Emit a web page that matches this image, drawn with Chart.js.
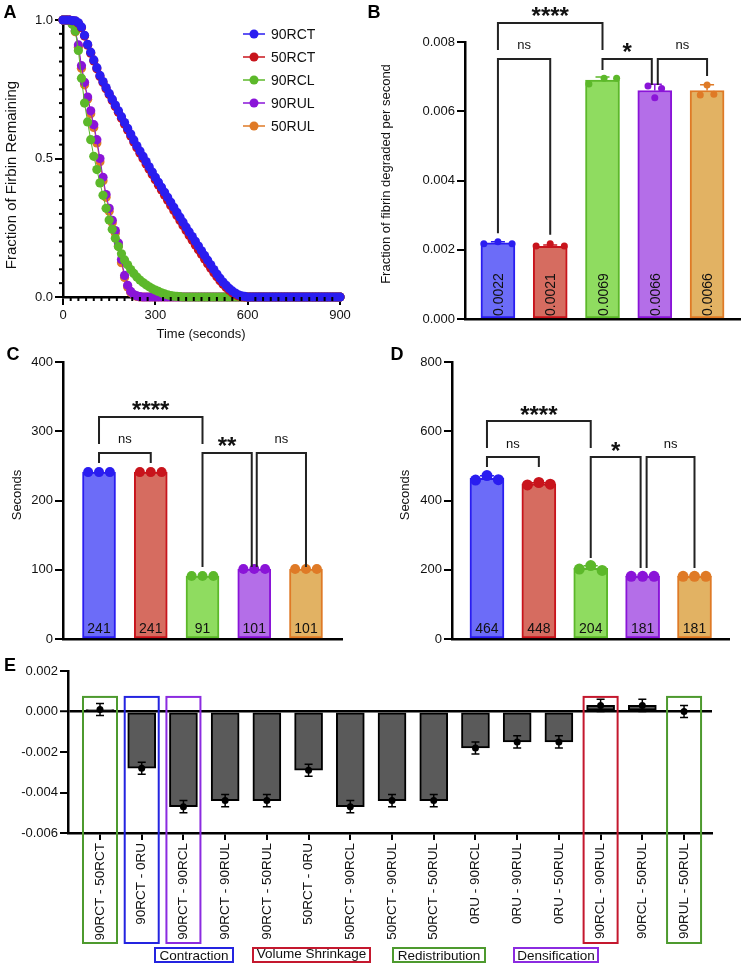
<!DOCTYPE html>
<html>
<head>
<meta charset="utf-8">
<title>Fibrin lysis</title>
<script src="https://cdn.jsdelivr.net/npm/chart.js@4.4.0/dist/chart.umd.min.js"></script>
<style>
  html, body { margin: 0; padding: 0; background: #fff; }
  #page { position: relative; width: 744px; height: 967px; }
  #page canvas { position: absolute; left: 0; top: 0; }
</style>
</head>
<body>
<div id="page">
  <canvas id="chartA" width="744" height="967"></canvas>
  <canvas id="chartB" width="744" height="967"></canvas>
  <canvas id="chartC" width="744" height="967"></canvas>
  <canvas id="chartD" width="744" height="967"></canvas>
  <canvas id="chartE" width="744" height="967"></canvas>
</div>
<script>
// ---- data ----
const groups = ['90RCT', '50RCT', '90RCL', '90RUL', '50RUL'];

// panel A: fraction of fibrin remaining, one reading every 10 s
const timeSec = [0,10,20,30,40,50,60,70,80,90,100,110,120,130,140,150,160,170,180,190,
  200,210,220,230,240,250,260,270,280,290,300,310,320,330,340,350,360,370,380,390,
  400,410,420,430,440,450,460,470,480,490,500,510,520,530,540,550,560,570,580,590,
  600,610,620,630,640,650,660,670,680,690,700,710,720,730,740,750,760,770,780,790,
  800,810,820,830,840,850,860,870,880,890,900];
const rem90RCT = [1.000,1.000,1.000,0.998,0.997,0.990,0.975,0.945,0.912,0.884,
  0.856,0.828,0.800,0.778,0.756,0.735,0.714,0.693,0.672,0.651,
  0.630,0.609,0.588,0.567,0.546,0.527,0.508,0.489,0.470,0.451,
  0.432,0.414,0.396,0.378,0.360,0.342,0.324,0.306,0.288,0.270,
  0.252,0.235,0.218,0.201,0.184,0.167,0.150,0.133,0.116,0.099,
  0.083,0.068,0.054,0.042,0.031,0.022,0.014,0.008,0.004,0.002,
  0,0,0,0,0,0,0,0,0,0,0,0,0,0,0,0,0,0,0,0,0,0,0,0,0,0,0,0,0,0,0];
const rem50RCT = [1.000,1.000,1.000,0.998,0.996,0.988,0.972,0.942,0.909,0.880,
  0.852,0.824,0.796,0.774,0.752,0.731,0.709,0.688,0.667,0.645,
  0.624,0.603,0.581,0.560,0.539,0.519,0.500,0.480,0.461,0.442,
  0.423,0.404,0.386,0.367,0.349,0.330,0.312,0.294,0.276,0.258,
  0.240,0.222,0.205,0.188,0.171,0.154,0.137,0.120,0.104,0.088,
  0.073,0.059,0.046,0.034,0.024,0.015,0.009,0.004,0.001,0,
  0,0,0,0,0,0,0,0,0,0,0,0,0,0,0,0,0,0,0,0,0,0,0,0,0,0,0,0,0,0,0];
const rem90RCL = [1.000,1.000,0.998,0.985,0.960,0.890,0.790,0.700,0.632,0.568,
  0.508,0.460,0.412,0.367,0.320,0.278,0.245,0.212,0.182,0.156,
  0.134,0.116,0.099,0.085,0.072,0.061,0.052,0.044,0.037,0.030,
  0.025,0.020,0.015,0.011,0.008,0.005,0.003,0.002,0.001,0,
  0,0,0,0,0,0,0,0,0,0,0,0,0,0,0,0,0,0,0,0,
  0,0,0,0,0,0,0,0,0,0,0,0,0,0,0,0,0,0,0,0,0,0,0,0,0,0,0,0,0,0,0];
const rem90RUL = [1.000,1.000,1.000,0.988,0.962,0.910,0.835,0.775,0.722,0.672,
  0.622,0.568,0.500,0.432,0.370,0.320,0.277,0.240,0.195,0.135,
  0.078,0.042,0.020,0.009,0.004,0.001,0,0,0,0,
  0,0,0,0,0,0,0,0,0,0,0,0,0,0,0,0,0,0,0,0,0,0,0,0,0,0,0,0,0,0,
  0,0,0,0,0,0,0,0,0,0,0,0,0,0,0,0,0,0,0,0,0,0,0,0,0,0,0,0,0,0,0];
const rem50RUL = [1.000,1.000,1.000,0.986,0.958,0.902,0.826,0.766,0.714,0.662,
  0.612,0.556,0.488,0.420,0.360,0.310,0.268,0.230,0.184,0.124,
  0.070,0.036,0.016,0.007,0.002,0,0,0,0,0,
  0,0,0,0,0,0,0,0,0,0,0,0,0,0,0,0,0,0,0,0,0,0,0,0,0,0,0,0,0,0,
  0,0,0,0,0,0,0,0,0,0,0,0,0,0,0,0,0,0,0,0,0,0,0,0,0,0,0,0,0,0,0];
const remaining = [rem90RCT, rem50RCT, rem90RCL, rem90RUL, rem50RUL];

// panel B: fraction degraded per second (3 replicates per group)
const rateReps = [
  [0.00217, 0.00223, 0.00217],
  [0.00211, 0.00217, 0.00211],
  [0.00679, 0.00695, 0.00695],
  [0.00673, 0.00639, 0.00666],
  [0.00647, 0.00676, 0.00649]
];
const rateMeans = [0.0022, 0.0021, 0.0069, 0.0066, 0.0066];

// panel C / D: seconds (3 replicates per group)
const secCReps = [[241,241,241],[241,241,241],[91,91,91],[101,101,101],[101,101,101]];
const secCMeans = [241, 241, 91, 101, 101];
const secDReps = [[459,472,460],[445,452,447],[202,212,198],[181,181,181],[181,181,181]];
const secDMeans = [464, 448, 204, 181, 181];

// panel E: pairwise differences
const diffLabels = ['90RCT - 50RCT','90RCT - 0RU','90RCT - 90RCL','90RCT - 90RUL','90RCT - 50RUL',
  '50RCT - 0RU','50RCT - 90RCL','50RCT - 90RUL','50RCT - 50RUL','0RU - 90RCL','0RU - 90RUL',
  '0RU - 50RUL','90RCL - 90RUL','90RCL - 50RUL','90RUL - 50RUL'];
const diffMeans = [0.0001,-0.0028,-0.0047,-0.0044,-0.0044,-0.0029,-0.0047,-0.0044,-0.0044,
  -0.0018,-0.0015,-0.0015,0.0003,0.0003,0.0000];
const diffErr = [0.0003,0.0003,0.0003,0.0003,0.0003,0.0003,0.0003,0.0003,0.0003,
  0.0003,0.0003,0.0003,0.0003,0.0003,0.0003];

// significance brackets (value units on each panel's y axis)
const rateBrackets = [
  { from: 0, to: 2, top: 0.00855, leg0: 0.00777, leg1: 0.00777, text: '****' },
  { from: 0, to: 1, top: 0.00751, leg0: 0.00248, leg1: 0.00243, text: 'ns' },
  { from: 2, to: 3, top: 0.00751, leg0: 0.00719, leg1: 0.00676, text: '*', dx1: -3 },
  { from: 3, to: 4, top: 0.00751, leg0: 0.00676, leg1: 0.00702, text: 'ns', dx0: 3 }
];
const secCBrackets = [
  { from: 0, to: 2, top: 320.6, leg0: 281.6, leg1: 281.6, text: '****' },
  { from: 0, to: 1, top: 268.6, leg0: 254, leg1: 254, text: 'ns' },
  { from: 2, to: 3, top: 268.6, leg0: 104, leg1: 104, text: '**', dx1: -2.5 },
  { from: 3, to: 4, top: 268.6, leg0: 104, leg1: 104, text: 'ns', dx0: 2.5 }
];
const secDBrackets = [
  { from: 0, to: 2, top: 629.6, leg0: 551.6, leg1: 551.6, text: '****' },
  { from: 0, to: 1, top: 525.6, leg0: 496.8, leg1: 496.8, text: 'ns' },
  { from: 2, to: 3, top: 525.6, leg0: 234, leg1: 205, text: '*', dx1: -2 },
  { from: 3, to: 4, top: 525.6, leg0: 205, leg1: 205, text: 'ns', dx0: 4 }
];

// ---- styles ----
const FONT = "'Liberation Sans', Arial, Helvetica, sans-serif";
const lineColors = ['#2a1df0', '#c8141c', '#5cb82a', '#8a14d8', '#df7a26'];
const barFills = ['#6c6cf8', '#d66c60', '#8fdc60', '#b46ee8', '#e2b263'];
const boxGreen = '#4d9a2e', boxBlue = '#2424e0', boxPurple = '#8b2be0', boxRed = '#c4182e';

Chart.defaults.font.family = FONT;
Chart.defaults.font.size = 13;
Chart.defaults.color = '#111';
Chart.defaults.animation = false;
Chart.defaults.events = [];
Chart.defaults.responsive = false;
Chart.defaults.devicePixelRatio = 1;
Chart.defaults.plugins.legend.display = false;
Chart.defaults.plugins.tooltip.enabled = false;

const PAGE_W = 744, PAGE_H = 967;

// place the chart area at page coords (l,t)-(r,b)
function frame(l, t, r, b, yw, xh) {
  return {
    padding: { left: l - yw, top: t, right: PAGE_W - r, bottom: PAGE_H - b - xh },
    fitY: s => { s.width = yw; },
    fitX: s => { s.height = xh; }
  };
}

function text(ctx, s, x, y, o = {}) {
  const size = o.size || 13, weight = o.weight || 'normal';
  ctx.save();
  ctx.font = `${weight} ${size}px ${FONT}`;
  ctx.fillStyle = o.color || '#111';
  ctx.textAlign = o.align || 'center';
  ctx.textBaseline = 'alphabetic';
  const m = ctx.measureText(s);
  const shift = (m.actualBoundingBoxAscent - m.actualBoundingBoxDescent) / 2;
  ctx.translate(x, y);
  if (o.rotate) ctx.rotate(o.rotate);
  ctx.fillText(s, 0, shift);
  ctx.restore();
}

function panelLetter(ctx, s, x, y) {
  text(ctx, s, x, y, { size: 18, weight: 'bold', color: '#000' });
}

function drawBrackets(chart, list) {
  const { ctx, scales: { x, y } } = chart;
  ctx.save();
  ctx.strokeStyle = '#222';
  ctx.lineWidth = 2;
  list.forEach(b => {
    const x0 = x.getPixelForValue(b.from) + (b.dx0 || 0);
    const x1 = x.getPixelForValue(b.to) + (b.dx1 || 0);
    const yt = y.getPixelForValue(b.top);
    ctx.beginPath();
    ctx.moveTo(x0, y.getPixelForValue(b.leg0));
    ctx.lineTo(x0, yt);
    ctx.lineTo(x1, yt);
    ctx.lineTo(x1, y.getPixelForValue(b.leg1));
    ctx.stroke();
    const isStar = b.text.indexOf('*') >= 0;
    if (isStar) text(ctx, b.text, (x0 + x1) / 2, yt - 11, { size: 24, weight: 'bold', color: '#111' });
    else text(ctx, b.text, (x0 + x1) / 2, yt - 13, { size: 13 });
  });
  ctx.restore();
}

function sd(arr) {
  const m = arr.reduce((a, v) => a + v, 0) / arr.length;
  return Math.sqrt(arr.reduce((a, v) => a + (v - m) * (v - m), 0) / (arr.length - 1));
}

// upward SD whiskers in the group colour
function drawSdBars(chart, means, reps) {
  const { ctx, scales: { x, y } } = chart;
  ctx.save();
  ctx.lineWidth = 1.5;
  means.forEach((m, i) => {
    const s = sd(reps[i]);
    if (s <= 0) return;
    const px = x.getPixelForValue(i);
    const y0 = y.getPixelForValue(m), y1 = y.getPixelForValue(m + s);
    ctx.strokeStyle = lineColors[i];
    ctx.beginPath();
    ctx.moveTo(px, y0); ctx.lineTo(px, y1);
    ctx.moveTo(px - 7, y1); ctx.lineTo(px + 7, y1);
    ctx.stroke();
  });
  ctx.restore();
}

function yAxis(min, max, step, fmt, fit) {
  return {
    type: 'linear', min, max,
    ticks: { stepSize: step, callback: fmt, padding: 2, color: '#111', font: { size: 13 } },
    grid: { display: true, drawOnChartArea: false, drawTicks: true, tickLength: 8, color: '#000', lineWidth: 2 },
    border: { display: true, color: '#000', width: 2.5 },
    afterFit: fit
  };
}

function flatXAxis(min, max, fit) {
  return {
    type: 'linear', min, max, offset: false,
    ticks: { display: false },
    grid: { display: false, offset: false },
    border: { display: true, color: '#000', width: 2.5 },
    afterFit: fit
  };
}

function barPanel(id, fr, xr, yOpts, means, reps, jitter, barW, dotR, extras) {
  const dots = [], dotColors = [];
  reps.forEach((row, i) => row.forEach((v, r) => {
    dots.push({ x: i + jitter[i][r], y: v });
    dotColors.push(lineColors[i]);
  }));
  return new Chart(document.getElementById(id), {
    type: 'bar',
    data: {
      datasets: [
        {
          type: 'bar',
          data: means.map((m, i) => ({ x: i, y: m })),
          backgroundColor: barFills,
          borderColor: lineColors,
          borderWidth: 2,
          borderSkipped: false,
          barThickness: barW,
          order: 2
        },
        {
          type: 'line',
          data: dots,
          showLine: false,
          pointRadius: dotR,
          pointBackgroundColor: dotColors,
          pointBorderWidth: 0,
          clip: false,
          order: 0
        }
      ]
    },
    options: {
      layout: { padding: fr.padding },
      scales: { x: flatXAxis(xr[0], xr[1], fr.fitX), y: yOpts }
    },
    plugins: [{
      id: 'extras_' + id,
      beforeDatasetsDraw(chart) { drawSdBars(chart, means, reps); },
      afterDraw(chart) { extras(chart); }
    }]
  });
}

// ---- panel A ----
const fA = frame(63, 20, 340, 297, 50, 40);
new Chart(document.getElementById('chartA'), {
  type: 'line',
  data: {
    datasets: groups.map((g, k) => ({
      label: g,
      data: timeSec.map((t, i) => ({ x: t, y: remaining[k][i] })),
      borderColor: lineColors[k],
      backgroundColor: lineColors[k],
      borderWidth: 1,
      pointRadius: 4.6,
      pointBackgroundColor: lineColors[k],
      pointBorderWidth: 0,
      tension: 0,
      clip: false
    }))
  },
  options: {
    layout: { padding: fA.padding },
    scales: {
      x: {
        type: 'linear', min: 0, max: 900,
        ticks: { stepSize: 300, padding: 3, color: '#111', font: { size: 13 } },
        grid: { display: true, drawOnChartArea: false, tickLength: 8, color: '#000', lineWidth: 2 },
        border: { display: true, color: '#000', width: 2.5 },
        afterFit: fA.fitX
      },
      y: yAxis(0, 1, 0.5, v => v.toFixed(1), fA.fitY)
    }
  },
  plugins: [{
    id: 'extrasA',
    afterDraw(chart) {
      const { ctx, chartArea: a, scales: { x, y } } = chart;
      ctx.save();
      ctx.strokeStyle = '#000';
      ctx.lineWidth = 2;
      // minor ticks
      for (let k = 1; k < 20; k++) {
        if (k === 10) continue;
        const py = y.getPixelForValue(k * 0.05);
        ctx.beginPath(); ctx.moveTo(a.left - 4, py); ctx.lineTo(a.left, py); ctx.stroke();
      }
      for (let k = 1; k < 36; k++) {
        if (k % 12 === 0) continue;
        const px = x.getPixelForValue(k * 25);
        ctx.beginPath(); ctx.moveTo(px, a.bottom); ctx.lineTo(px, a.bottom + 4); ctx.stroke();
      }
      ctx.restore();
      // legend
      groups.forEach((g, k) => {
        const ly = 34 + k * 23;
        ctx.save();
        ctx.strokeStyle = lineColors[k];
        ctx.lineWidth = 1.5;
        ctx.beginPath(); ctx.moveTo(243, ly); ctx.lineTo(265, ly); ctx.stroke();
        ctx.fillStyle = lineColors[k];
        ctx.beginPath(); ctx.arc(254, ly, 4.5, 0, Math.PI * 2); ctx.fill();
        ctx.restore();
        text(ctx, g, 271, ly, { size: 14, align: 'left' });
      });
      text(ctx, 'Time (seconds)', 201, 335, { size: 13 });
      text(ctx, 'Fraction of Firbin Remaining', 12, 175, { size: 15, rotate: -Math.PI / 2 });
      panelLetter(ctx, 'A', 10, 11);
    }
  }]
});

// ---- panel B ----
const fB = frame(465, 42, 740, 319, 60, 10);
barPanel('chartB', fB, [-0.63, 4.63],
  yAxis(0, 0.008, 0.002, v => v.toFixed(3), fB.fitY),
  rateMeans, rateReps,
  [[-0.27, 0, 0.27], [-0.27, 0, 0.27], [-0.26, 0.03, 0.27], [-0.13, 0, 0.13], [-0.13, 0, 0.13]],
  34, 3.5,
  chart => {
    const { ctx, scales: { x } } = chart;
    drawBrackets(chart, rateBrackets);
    rateMeans.forEach((m, i) => {
      text(ctx, m.toFixed(4), x.getPixelForValue(i), 316, { size: 14, align: 'left', rotate: -Math.PI / 2 });
    });
    text(ctx, 'Fraction of fibrin degraded per second', 387, 174, { size: 13, rotate: -Math.PI / 2 });
    panelLetter(ctx, 'B', 374, 11);
  });

// ---- panel C ----
const fC = frame(63, 362, 342, 639, 50, 10);
barPanel('chartC', fC, [-0.696, 4.696],
  yAxis(0, 400, 100, v => String(v), fC.fitY),
  secCMeans, secCReps,
  [[-0.21, 0, 0.21], [-0.21, 0, 0.21], [-0.21, 0, 0.21], [-0.21, 0, 0.21], [-0.21, 0, 0.21]],
  33, 5,
  chart => {
    const { ctx, scales: { x } } = chart;
    drawBrackets(chart, secCBrackets);
    secCMeans.forEach((m, i) => text(ctx, String(m), x.getPixelForValue(i), 628, { size: 14 }));
    text(ctx, 'Seconds', 16, 495, { size: 13, rotate: -Math.PI / 2 });
    panelLetter(ctx, 'C', 13, 353);
  });

// ---- panel D ----
const fD = frame(452, 362, 729, 639, 55, 10);
barPanel('chartD', fD, [-0.674, 4.665],
  yAxis(0, 800, 200, v => String(v), fD.fitY),
  secDMeans, secDReps,
  [[-0.22, 0, 0.22], [-0.22, 0, 0.22], [-0.22, 0, 0.22], [-0.22, 0, 0.22], [-0.22, 0, 0.22]],
  34, 5.5,
  chart => {
    const { ctx, scales: { x } } = chart;
    drawBrackets(chart, secDBrackets);
    secDMeans.forEach((m, i) => text(ctx, String(m), x.getPixelForValue(i), 628, { size: 14 }));
    text(ctx, 'Seconds', 404, 495, { size: 13, rotate: -Math.PI / 2 });
    panelLetter(ctx, 'D', 397, 353);
  });

// ---- panel E ----
const highlightBoxes = [
  { index: 0, color: boxGreen }, { index: 1, color: boxBlue }, { index: 2, color: boxPurple },
  { index: 12, color: boxRed }, { index: 14, color: boxGreen }
];
const mechanismKey = [
  { label: 'Contraction', color: boxBlue, x0: 155, x1: 233 },
  { label: 'Volume Shrinkage', color: boxRed, x0: 253, x1: 370 },
  { label: 'Redistribution', color: boxGreen, x0: 393, x1: 485 },
  { label: 'Densification', color: boxPurple, x0: 514, x1: 598 }
];
const isZero = v => Math.abs(v) < 1e-9;
const fE = frame(68, 671, 712, 833, 55, 120);
new Chart(document.getElementById('chartE'), {
  type: 'bar',
  data: {
    datasets: [
      {
        type: 'bar',
        data: diffMeans.map((m, i) => ({ x: i, y: m })),
        backgroundColor: '#5a5a5a',
        borderColor: '#000',
        borderWidth: 2,
        borderSkipped: false,
        barThickness: 28,
        order: 2
      },
      {
        type: 'line',
        data: diffMeans.map((m, i) => ({ x: i, y: m })),
        showLine: false,
        pointRadius: 3.5,
        pointBackgroundColor: '#000',
        pointBorderWidth: 0,
        clip: false,
        order: 0
      }
    ]
  },
  options: {
    layout: { padding: fE.padding },
    scales: {
      x: {
        type: 'linear', min: -0.767, max: 14.67, offset: false,
        ticks: {
          stepSize: 1, autoSkip: false, includeBounds: false,
          minRotation: 90, maxRotation: 90, padding: 3, color: '#111', font: { size: 13.5 },
          callback: v => (Math.abs(v - Math.round(v)) < 1e-6 ? diffLabels[Math.round(v)] || '' : '')
        },
        grid: { display: true, offset: false, drawOnChartArea: false, tickLength: 7, color: '#000', lineWidth: 2 },
        border: { display: true, color: '#000', width: 2.5 },
        afterFit: fE.fitX
      },
      y: {
        type: 'linear', min: -0.006, max: 0.002,
        ticks: { stepSize: 0.002, padding: 2, color: '#111', font: { size: 13 }, callback: v => v.toFixed(3) },
        grid: {
          display: true, drawOnChartArea: true, drawTicks: true, tickLength: 8,
          color: c => (isZero(c.tick.value) ? '#000' : 'rgba(0,0,0,0)'),
          lineWidth: c => (isZero(c.tick.value) ? 2.5 : 2),
          tickColor: '#000', tickWidth: 2
        },
        border: { display: true, color: '#000', width: 2.5 },
        afterFit: fE.fitY
      }
    }
  },
  plugins: [{
    id: 'extrasE',
    afterDatasetsDraw(chart) {
      const { ctx, scales: { x, y } } = chart;
      ctx.save();
      ctx.strokeStyle = '#000';
      ctx.lineWidth = 1.5;
      diffMeans.forEach((m, i) => {
        const px = x.getPixelForValue(i);
        const yHi = y.getPixelForValue(m + diffErr[i]), yLo = y.getPixelForValue(m - diffErr[i]);
        ctx.beginPath();
        ctx.moveTo(px, yHi); ctx.lineTo(px, yLo);
        ctx.moveTo(px - 4, yHi); ctx.lineTo(px + 4, yHi);
        ctx.moveTo(px - 4, yLo); ctx.lineTo(px + 4, yLo);
        ctx.stroke();
      });
      ctx.restore();
    },
    afterDraw(chart) {
      const { ctx, chartArea: a, scales: { x, y } } = chart;
      ctx.save();
      ctx.lineWidth = 2;
      highlightBoxes.forEach(b => {
        const px = x.getPixelForValue(b.index);
        const top = y.getPixelForValue(0.00072);
        ctx.strokeStyle = b.color;
        ctx.strokeRect(px - 17, top, 34, a.bottom + 110 - top);
      });
      mechanismKey.forEach(k => {
        ctx.strokeStyle = k.color;
        ctx.strokeRect(k.x0, 948, k.x1 - k.x0, 14);
      });
      ctx.restore();
      mechanismKey.forEach(k => text(ctx, k.label, (k.x0 + k.x1) / 2, 955, { size: 13.5 }));
      panelLetter(ctx, 'E', 10, 664);
    }
  }]
});
</script>
</body>
</html>
